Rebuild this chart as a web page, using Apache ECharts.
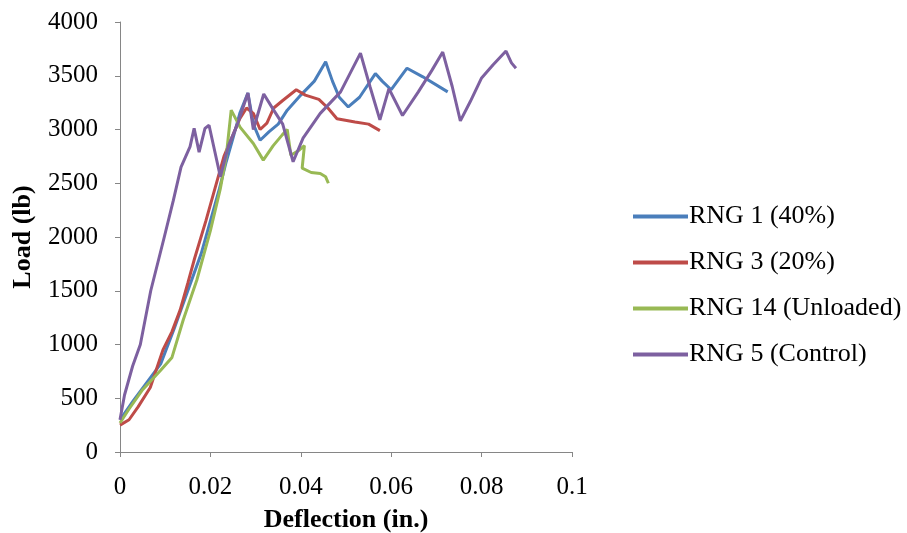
<!DOCTYPE html>
<html>
<head>
<meta charset="utf-8">
<script src="https://cdn.jsdelivr.net/npm/echarts@6/dist/echarts.min.js"></script>
<style>html,body{margin:0;padding:0;background:#fff}#c{width:907px;height:533px}</style>
</head>
<body>
<div id="c"></div>
<script>
const seriesNames = ['RNG 1 (40%)', 'RNG 3 (20%)', 'RNG 14 (Unloaded)', 'RNG 5 (Control)'];
const seriesColors = ['#4A7EBB', '#BE4B48', '#98B954', '#7D60A0'];
const xTicks = [0, 0.02, 0.04, 0.06, 0.08, 0.1];
const yTicks = [0, 500, 1000, 1500, 2000, 2500, 3000, 3500, 4000];

// [deflection (in.), load (lb)]
const rng1 = [[0,300],[0.003,480],[0.006,650],[0.009,820],[0.012,1150],[0.015,1500],[0.018,1850],[0.020,2150],[0.022,2450],[0.0235,2700],[0.025,2920],[0.0265,3150],[0.0283,3340],[0.0295,3050],[0.031,2900],[0.033,2980],[0.035,3050],[0.037,3180],[0.040,3320],[0.043,3450],[0.0455,3630],[0.047,3450],[0.0485,3300],[0.0505,3210],[0.053,3300],[0.0565,3520],[0.058,3450],[0.060,3370],[0.0635,3570],[0.067,3490],[0.0725,3350]];
const rng3 = [[0,250],[0.002,300],[0.004,420],[0.0067,600],[0.0095,950],[0.0115,1120],[0.0133,1320],[0.015,1570],[0.0165,1800],[0.019,2150],[0.021,2450],[0.023,2750],[0.025,2950],[0.0265,3100],[0.028,3200],[0.0295,3150],[0.031,3000],[0.0325,3060],[0.034,3200],[0.036,3270],[0.039,3370],[0.041,3320],[0.044,3280],[0.046,3200],[0.048,3100],[0.052,3070],[0.055,3050],[0.0575,2990]];
const rng14 = [[0,270],[0.002,400],[0.005,580],[0.009,760],[0.0115,880],[0.014,1230],[0.017,1600],[0.020,2060],[0.0222,2450],[0.0235,2750],[0.0246,3180],[0.0266,3020],[0.0295,2870],[0.0317,2715],[0.0339,2850],[0.0359,2950],[0.037,3000],[0.0378,2760],[0.0397,2810],[0.0408,2850],[0.0403,2640],[0.0423,2600],[0.0443,2590],[0.0455,2560],[0.0461,2500]];
const rng5 = [[0,300],[0.001,530],[0.0028,800],[0.0045,1000],[0.0068,1500],[0.0098,2000],[0.0118,2340],[0.0135,2650],[0.0155,2840],[0.0164,3010],[0.0175,2790],[0.0188,3010],[0.0197,3040],[0.0222,2560],[0.024,2850],[0.026,3050],[0.0283,3340],[0.0295,3000],[0.0318,3330],[0.034,3180],[0.036,3050],[0.0383,2700],[0.0405,2920],[0.0443,3150],[0.0488,3350],[0.0532,3710],[0.0553,3400],[0.0575,3090],[0.0595,3380],[0.0625,3130],[0.066,3350],[0.069,3550],[0.0714,3720],[0.0735,3400],[0.0753,3080],[0.0775,3260],[0.080,3480],[0.0825,3600],[0.0854,3730],[0.0866,3620],[0.0876,3570]];

const allData = [rng1, rng3, rng14, rng5];
const font = '"Liberation Serif", "Times New Roman", serif';

const chart = echarts.init(document.getElementById('c'), null, {renderer: 'canvas'});
chart.setOption({
  animation: false,
  backgroundColor: '#fff',
  grid: {left: 120, right: 335, top: 22, bottom: 81, containLabel: false, outerBoundsMode: 'none'},
  legend: {
    orient: 'vertical', left: 628, top: 198,
    itemWidth: 55, itemHeight: 4, itemGap: 19, icon: 'rect',
    textStyle: {fontFamily: font, fontSize: 26, color: '#000', lineHeight: 27, padding: [0,0,0,-4]},
    data: seriesNames
  },
  xAxis: {
    type: 'value', min: xTicks[0], max: xTicks[xTicks.length-1], interval: 0.02,
    axisLine: {lineStyle: {color: '#868686', width: 1}},
    axisTick: {show: true, length: 5, lineStyle: {color: '#868686'}},
    splitLine: {show: false},
    axisLabel: {fontFamily: font, fontSize: 25, color: '#000', margin: 23},
    name: 'Deflection (in.)', nameLocation: 'middle', nameGap: 55,
    nameTextStyle: {fontFamily: font, fontSize: 26, fontWeight: 'bold', color: '#000'}
  },
  yAxis: {
    type: 'value', min: yTicks[0], max: yTicks[yTicks.length-1], interval: 500,
    axisLine: {show: true, lineStyle: {color: '#868686', width: 1}},
    axisTick: {show: true, length: 5, lineStyle: {color: '#868686'}},
    splitLine: {show: false},
    axisLabel: {fontFamily: font, fontSize: 25, color: '#000', margin: 22, formatter: v => String(v)},
    name: 'Load (lb)', nameLocation: 'middle', nameGap: 84, nameRotate: 90,
    nameTextStyle: {fontFamily: font, fontSize: 26, fontWeight: 'bold', color: '#000'}
  },
  series: seriesNames.map((n, i) => ({
    name: n, type: 'line', data: allData[i], showSymbol: false, smooth: false,
    lineStyle: {color: seriesColors[i], width: 3}, itemStyle: {color: seriesColors[i]},
    z: 2 + i
  }))
});
</script>
</body>
</html>
